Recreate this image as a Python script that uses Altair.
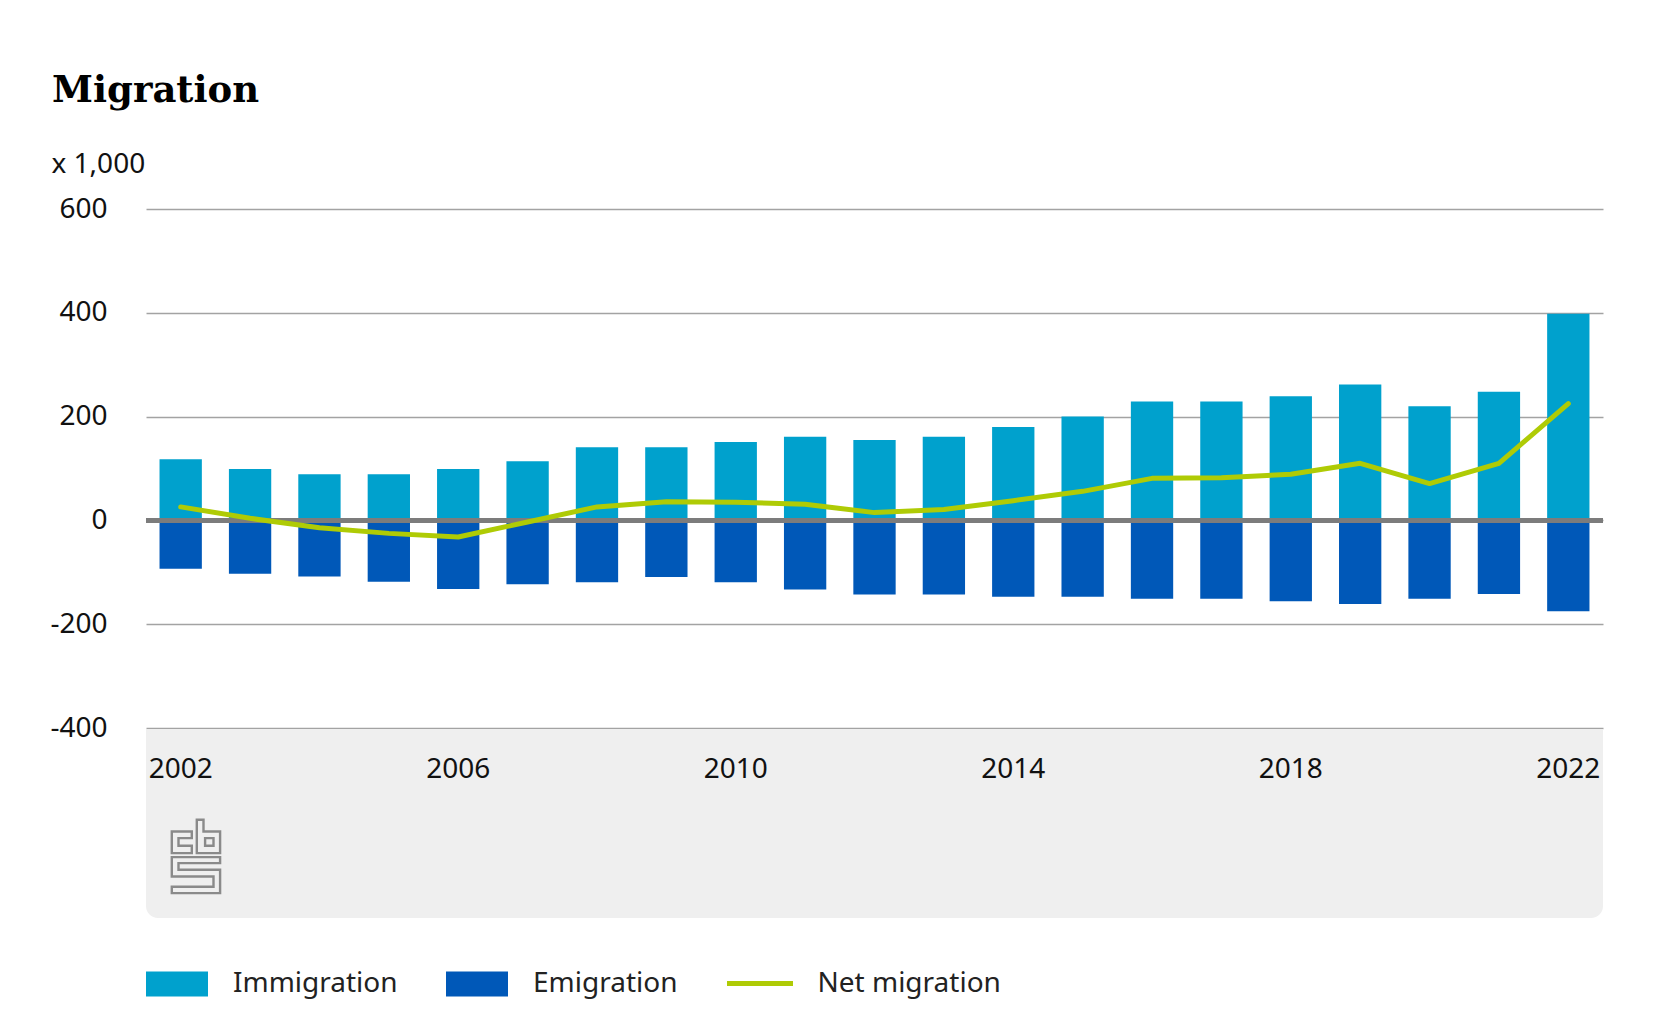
import altair as alt
import pandas as pd

# ---- data (thousands) ----
years = list(range(2002, 2023))
immigration = [118, 99, 89, 89, 99, 114, 141, 141, 151, 161, 155, 161, 180, 200, 229, 229, 239, 262, 220, 248, 398]
emigration = [-93, -103, -108, -118, -132, -123, -119, -109, -119, -133, -143, -143, -147, -147, -151, -151, -156, -161, -151, -142, -175]
net_migration = [26, 4, -14, -25, -32, -3, 26, 36, 35, 31, 15, 21, 38, 56, 81, 82, 89, 110, 71, 110, 225]
bar_series = ["Immigration", "Emigration"]
line_series = ["Net migration"]
x_tick_labels = [2002, 2006, 2010, 2014, 2018, 2022]
y_ticks = [-400, -200, 0, 200, 400, 600]

bars_df = pd.DataFrame({
    "year": years * 2,
    "series": [bar_series[0]] * len(years) + [bar_series[1]] * len(years),
    "value": immigration + emigration,
})
net_df = pd.DataFrame({"year": years, "series": line_series[0], "value": net_migration})
zero_df = pd.DataFrame({"value": [0]})
one_df = pd.DataFrame({"k": [0]})

W, H = 1457, 519
FONT = "Noto Sans"
TXT = "#111111"

x_enc = alt.X(
    "year:O",
    scale=alt.Scale(paddingInner=0.39, paddingOuter=0.195),
    axis=alt.Axis(
        values=x_tick_labels, labelAngle=0, labelFontSize=28, labelFont=FONT,
        labelColor=TXT, labelPadding=49, labelBaseline="alphabetic",
        ticks=False, tickSize=0, domain=False, grid=False, title=None, zindex=1,
    ),
)
y_enc = alt.Y(
    "value:Q",
    scale=alt.Scale(domain=[-400, 600], nice=False, zero=False),
    stack=None,
    axis=alt.Axis(
        values=y_ticks, labelExpr="'' + datum.value",
        title="x 1,000", titleAngle=0, titleAlign="left",
        titleX=-95, titleY=-37, titleBaseline="alphabetic", titleFontSize=28,
        titleFontWeight="normal", titleFont=FONT, titleColor=TXT,
        labelFontSize=28, labelFont=FONT, labelColor=TXT, labelPadding=39,
        ticks=False, tickSize=0, domain=False, grid=True,
        gridColor="#a3a3a3", gridWidth=1.5,
    ),
)

box = alt.Chart(one_df).mark_rect(
    color="#efefef", cornerRadiusBottomLeft=12, cornerRadiusBottomRight=12
).encode(x=alt.value(0), x2=alt.value(W), y=alt.value(520), y2=alt.value(709))

bars = alt.Chart(bars_df).mark_bar(opacity=1).encode(
    x=x_enc,
    y=y_enc,
    color=alt.Color(
        "series:N",
        scale=alt.Scale(domain=bar_series, range=["#00a1cd", "#0058b8"]),
        legend=alt.Legend(
            title=None, orient="none", legendX=0, legendY=744, direction="horizontal",
            symbolType="M-1,-0.4H1V0.4H-1Z", symbolSize=3844, symbolStrokeWidth=0,
            symbolOpacity=1, labelFontSize=28, labelFont=FONT, labelColor="#222222",
            labelOffset=25, columnPadding=48, padding=0, labelLimit=400,
        ),
    ),
)

zero = alt.Chart(zero_df).mark_rule(color="#7c7c7c", strokeWidth=5).encode(y=y_enc)

line = alt.Chart(net_df).mark_line(strokeWidth=5, strokeCap="round", strokeJoin="round").encode(
    x=x_enc,
    y=y_enc,
    stroke=alt.Stroke(
        "series:N",
        scale=alt.Scale(domain=line_series, range=["#afcb05"]),
        legend=alt.Legend(
            title=None, orient="none", legendX=578.5, legendY=739, direction="horizontal",
            symbolType="M-1,0H1", symbolSize=4356, symbolStrokeWidth=5,
            labelFontSize=28, labelFont=FONT, labelColor="#222222",
            labelOffset=22, padding=0, labelLimit=400,
        ),
    ),
)

logo_path = (
    "M0.8,-3.4V-36.7H7.5V-25H24.1V-3.4Z"
    "M9.1,-18.4H17.5V-10.7H9.1Z"
    "M-4.2,-25H-24.2V-3.4H-4.2V-10.7H-17.5V-18.4H-4.2Z"
    "M24.1,0.6H-24.2V20H17.5V30.3H-24.2V36.6H24.1V13.3H-17.5V6.6H24.1Z"
)
logo = alt.Chart(one_df).mark_point(
    shape=logo_path, size=4, filled=False, stroke="#8a8a8a", strokeWidth=2.4, opacity=1
).encode(x=alt.value(50), y=alt.value(647.5))

chart = alt.layer(box, bars, zero, line, logo).properties(
    width=W,
    height=H,
    background="white",
    padding={"left": 138, "top": 201, "right": 30, "bottom": 274},
    autosize=alt.AutoSizeParams(type="none"),
    title=alt.TitleParams(
        "Migration", anchor="start", frame="group", dx=-94, font="DejaVu Serif",
        fontSize=37, fontWeight="bold", color="#000000", baseline="alphabetic", offset=11,
    ),
).configure_view(stroke="transparent", strokeWidth=0)

chart.save("out.html", embed_options={"renderer": "svg", "actions": False})
